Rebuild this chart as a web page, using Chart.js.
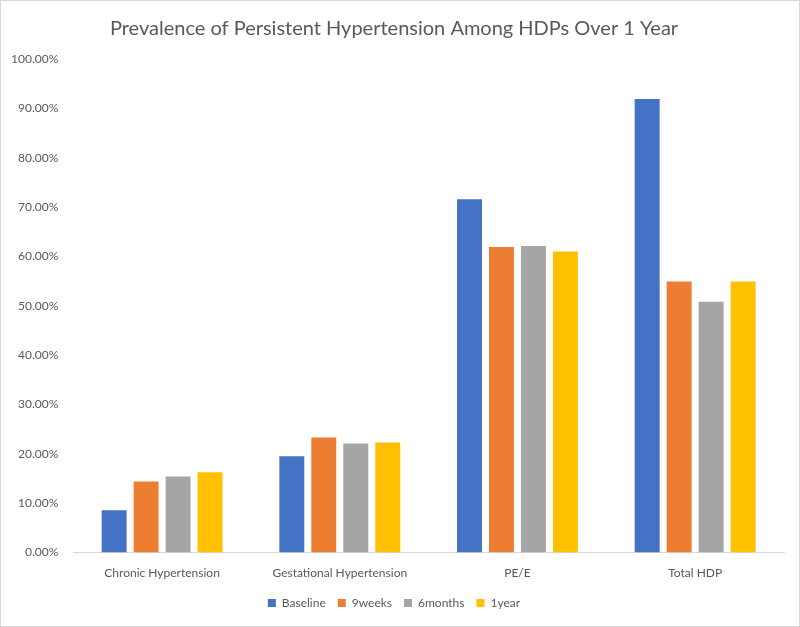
<!DOCTYPE html>
<html>
<head>
<meta charset="utf-8">
<script src="https://cdn.jsdelivr.net/npm/chart.js@4"></script>
<style>
    body { margin: 0; background: #fff; }
    #wrap { width: 800px; height: 627px; box-sizing: border-box; border: 1px solid #d9d9d9; position: relative; }
</style>
</head>
<body>
<div id="wrap"><canvas id="myBarChart"></canvas></div>
<script>
    // values (percent)
    const categories = ["Chronic Hypertension", "Gestational Hypertension", "PE/E", "Total HDP"];
    const seriesNames = ["Baseline", "9weeks", "6months", "1year"];
    const baseline = [8.6, 19.5, 71.6, 91.9];
    const weeks9 = [14.4, 23.3, 61.9, 54.9];
    const months6 = [15.4, 22.1, 62.1, 50.8];
    const year1 = [16.3, 22.3, 61.0, 54.9];
    const colors = ["#4472C4", "#ED7D31", "#A5A5A5", "#FFC000"];

    const fontFamily = "Lato, 'Open Sans', sans-serif";
    const textColor = "#595959";

    let ctx = document.getElementById("myBarChart").getContext("2d");
    let allSeries = [baseline, weeks9, months6, year1];

    let myBarChart = new Chart(ctx, {
        type: 'bar',
        data: {
            labels: categories,
            datasets: allSeries.map((values, i) => ({
                label: seriesNames[i],
                data: values,
                backgroundColor: colors[i],
                borderWidth: 0,
                categoryPercentage: 0.72,
                barPercentage: 0.78
            }))
        },
        options: {
            responsive: true,
            maintainAspectRatio: false,
            animation: false,
            layout: {
                padding: {left: 3, right: 15, top: 10, bottom: 7}
            },
            plugins: {
                title: {
                    display: true,
                    text: "Prevalence of Persistent Hypertension Among HDPs Over 1 Year",
                    color: textColor,
                    font: {family: fontFamily, size: 20, weight: 'normal'},
                    padding: {top: 6, bottom: 18}
                },
                legend: {
                    position: 'bottom',
                    labels: {
                        color: textColor,
                        font: {family: fontFamily, size: 12},
                        boxWidth: 8,
                        boxHeight: 8,
                        padding: 12
                    }
                },
                tooltip: {enabled: false}
            },
            scales: {
                x: {
                    grid: {display: false},
                    border: {color: "#d9d9d9"},
                    ticks: {
                        color: textColor,
                        font: {family: fontFamily, size: 12},
                        padding: 5
                    }
                },
                y: {
                    min: 0,
                    max: 100,
                    grid: {display: false},
                    border: {display: false},
                    ticks: {
                        stepSize: 10,
                        color: textColor,
                        font: {family: fontFamily, size: 12},
                        padding: 7,
                        callback: value => value.toFixed(2) + "%"
                    }
                }
            }
        }
    });
</script>
</body>
</html>
